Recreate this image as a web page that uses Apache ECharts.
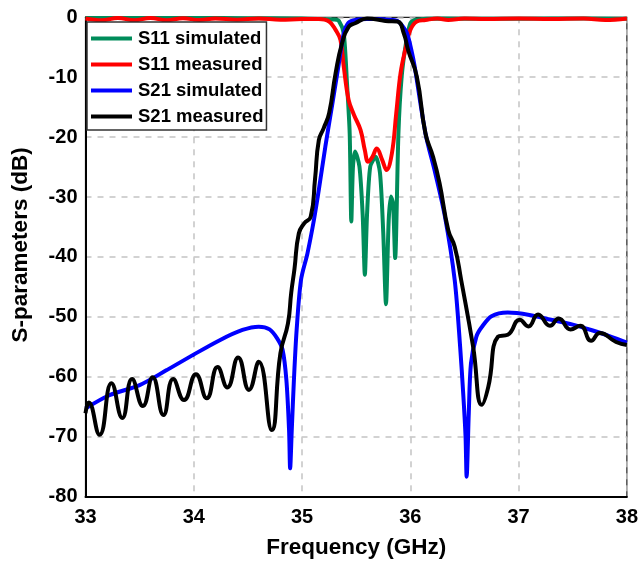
<!doctype html>
<html>
<head>
<meta charset="UTF-8">
<title>S-parameters</title>
<script src="https://cdn.jsdelivr.net/npm/echarts@6/dist/echarts.min.js"></script>
<style>
  html, body { margin: 0; padding: 0; background: #fff; }
  #chart { width: 641px; height: 565px; }
</style>
</head>
<body>
<div id="chart"></div>
<script>
// frequency ticks (GHz) and dB ticks
var xTicks = [33, 34, 35, 36, 37, 38];
var yTicks = [0, -10, -20, -30, -40, -50, -60, -70, -80];

// S11 simulated
var s11SimF = [33.0, 33.5, 34.0, 34.5, 35.0, 35.2, 35.3, 35.34, 35.385, 35.415, 35.44, 35.455, 35.47, 35.49, 35.53, 35.56, 35.58, 35.6, 35.63, 35.68, 35.72, 35.75, 35.775, 35.8, 35.82, 35.84, 35.86, 35.89, 35.92, 35.96, 36.0, 36.05, 36.3, 36.8, 37.3, 38.0];
var s11SimV = [-0.1, -0.1, -0.1, -0.15, -0.2, -0.3, -0.35, -0.6, -2.7, -11, -19.4, -34.1, -25, -22.4, -24.9, -33, -43, -33, -24.9, -23.3, -26, -36, -47.9, -34, -29.9, -31, -40.2, -19.4, -9.9, -4.3, -1.0, -0.4, -0.2, -0.25, -0.2, -0.25];

// S11 measured
var s11MeasF = [33.0, 33.15, 33.3, 33.45, 33.6, 33.75, 33.9, 34.05, 34.2, 34.4, 34.6, 34.8, 35.0, 35.155, 35.25, 35.31, 35.355, 35.385, 35.43, 35.48, 35.54, 35.58, 35.61, 35.65, 35.69, 35.74, 35.78, 35.83, 35.87, 35.91, 35.96, 36.0, 36.06, 36.14, 36.25, 36.35, 36.5, 36.7, 37.0, 37.3, 37.6, 37.8, 38.0];
var s11MeasV = [-0.2, -0.5, -0.1, -0.5, -0.1, -0.5, -0.15, -0.45, -0.2, -0.4, -0.2, -0.4, -0.3, -0.3, -0.7, -2.1, -3.8, -8.2, -13.8, -16.3, -18.8, -22.2, -24.1, -23.3, -21.9, -23.8, -25.5, -22.7, -16, -9.3, -4.9, -2.1, -0.7, -0.45, -0.2, -0.45, -0.2, -0.3, -0.2, -0.3, -0.2, -0.45, -0.2];

// S21 simulated
var s21SimF = [33.0, 33.22, 33.5, 33.75, 33.99, 34.24, 34.45, 34.6, 34.7, 34.77, 34.82, 34.855, 34.88, 34.89, 34.905, 34.925, 34.95, 34.99, 35.05, 35.11, 35.155, 35.215, 35.28, 35.34, 35.385, 35.43, 35.5, 35.6, 35.7, 35.8, 35.88, 35.92, 35.97, 36.01, 36.04, 36.14, 36.23, 36.32, 36.41, 36.46, 36.49, 36.51, 36.52, 36.54, 36.56, 36.61, 36.66, 36.75, 36.9, 37.1, 37.3, 37.5, 37.67, 37.85, 38.0];
var s21SimV = [-65.3, -63.1, -61.4, -58.9, -56.4, -53.9, -52.2, -51.65, -52.1, -53.6, -55.5, -60.5, -68.9, -75.3, -68.9, -60.5, -52.2, -43.9, -39.4, -33.8, -28.8, -21.6, -14.4, -7.7, -2.7, -0.9, -0.4, -0.3, -0.3, -0.4, -0.6, -1.3, -2.7, -5.5, -8.2, -19.4, -26, -33.3, -43.9, -55, -63.3, -70, -76.7, -66, -57.8, -53.3, -51.7, -49.9, -49.3, -49.7, -50.5, -51.3, -52.2, -53.3, -54.3];

// S21 measured
var s21MeasF = [33.0, 33.03, 33.13, 33.24, 33.34, 33.43, 33.53, 33.62, 33.72, 33.81, 33.91, 34.02, 34.12, 34.22, 34.31, 34.41, 34.51, 34.6, 34.72, 34.8, 34.87, 34.9, 34.93, 34.97, 35.02, 35.08, 35.12, 35.155, 35.2, 35.25, 35.31, 35.37, 35.43, 35.49, 35.6, 35.77, 35.88, 35.94, 35.98, 36.06, 36.14, 36.21, 36.27, 36.35, 36.41, 36.47, 36.58, 36.66, 36.72, 36.81, 36.9, 37.01, 37.09, 37.18, 37.29, 37.37, 37.48, 37.57, 37.67, 37.75, 37.9, 38.0];
var s21MeasV = [-66.1, -64.3, -69.7, -61.1, -66.9, -60.4, -64.9, -60.1, -66.4, -60.4, -63.9, -59.6, -63.6, -58.4, -61.8, -56.8, -62.2, -57.5, -68.9, -56.1, -51.1, -46, -42, -36.1, -34.4, -33.3, -27, -20.5, -18.5, -16, -9.3, -4.3, -1.6, -1.0, -0.2, -0.6, -0.7, -2.7, -5.5, -9.9, -19.4, -23.3, -27.7, -35.5, -38.3, -43.9, -55, -64.7, -61.7, -53.3, -53.0, -50.5, -51.6, -49.6, -51.5, -50.3, -52.1, -51.5, -54.0, -52.7, -54.2, -54.7];

function zip(f, v) {
  var out = [];
  for (var i = 0; i < f.length; i++) { out.push([f[i], v[i]]); }
  return out;
}

var FONT = '"Liberation Sans", Arial, sans-serif';
var myChart = echarts.init(document.getElementById('chart'));

function lineSeries(name, color, data, smooth) {
  return {
    name: name,
    type: 'line',
    data: data,
    showSymbol: false,
    smooth: smooth,
    lineStyle: { color: color, width: 4 },
    itemStyle: { color: color },
    animation: false
  };
}

var option = {
  animation: false,
  grid: {
    left: 85.5, right: 11.5, top: 17.3, bottom: 68.5,
    show: true, borderColor: '#222', borderWidth: 1.2
  },
  legend: {
    orient: 'vertical',
    left: 87, top: 22,
    icon: 'rect',
    itemWidth: 41, itemHeight: 4,
    itemGap: 7,
    padding: [7, 3, 4, 4],
    backgroundColor: '#fff',
    borderColor: '#333', borderWidth: 1.5,
    textStyle: { fontFamily: FONT, fontWeight: 'bold', fontSize: 18.5, lineHeight: 18, color: '#000', padding: [0, 0, 0, 1] },
    data: ['S11 simulated', 'S11 measured', 'S21 simulated', 'S21 measured']
  },
  xAxis: {
    type: 'value',
    min: 33, max: 38, interval: 1,
    name: 'Frequency (GHz)',
    nameLocation: 'middle',
    nameGap: 40,
    nameTextStyle: { fontFamily: FONT, fontWeight: 'bold', fontSize: 22.5, color: '#000' },
    axisLine: { onZero: false, lineStyle: { color: '#000', width: 2 } },
    axisTick: { show: false },
    axisLabel: { fontFamily: FONT, fontWeight: 'bold', fontSize: 20, color: '#000', margin: 11 },
    splitLine: { show: true, lineStyle: { color: '#c4c4c4', width: 1.5, type: [6, 6] } }
  },
  yAxis: {
    type: 'value',
    min: -80, max: 0, interval: 10,
    name: 'S-parameters (dB)',
    nameLocation: 'middle',
    nameGap: 53,
    nameTextStyle: { fontFamily: FONT, fontWeight: 'bold', fontSize: 22.5, color: '#000', padding: [0, 0, 0, 24] },
    axisLine: { onZero: false, lineStyle: { color: '#000', width: 2 } },
    axisTick: { show: false },
    axisLabel: { fontFamily: FONT, fontWeight: 'bold', fontSize: 20, color: '#000', margin: 8 },
    splitLine: { show: true, lineStyle: { color: '#c4c4c4', width: 1.5, type: [6, 6] } }
  },
  series: [
    lineSeries('S11 simulated', '#008c5a', zip(s11SimF, s11SimV), 0.25),
    lineSeries('S11 measured', '#ff0000', zip(s11MeasF, s11MeasV), 0.4),
    lineSeries('S21 simulated', '#0000ff', zip(s21SimF, s21SimV), 0.3),
    lineSeries('S21 measured', '#000000', zip(s21MeasF, s21MeasV), 0.5)
  ]
};
myChart.setOption(option, true);
</script>
</body>
</html>
